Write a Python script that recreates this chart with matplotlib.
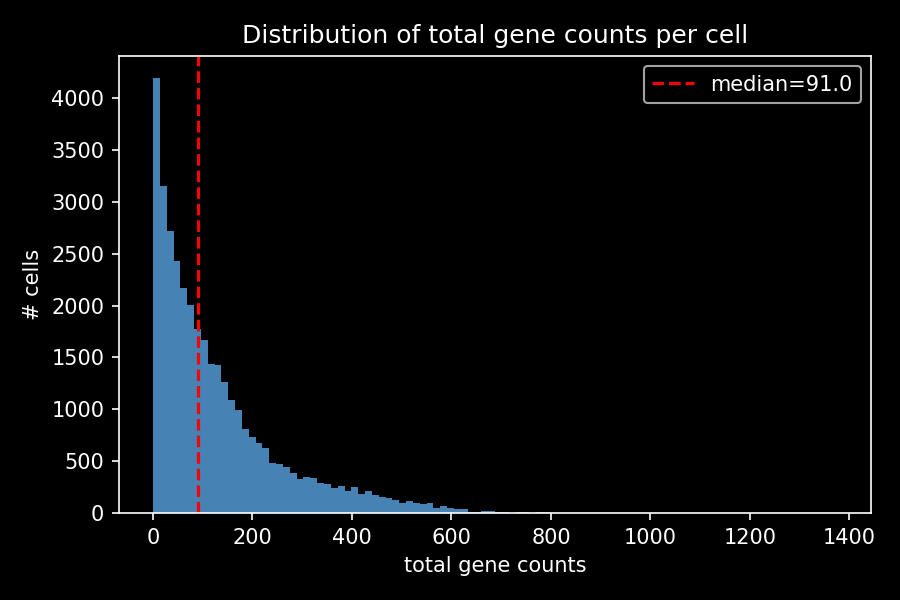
import numpy as np
import matplotlib
matplotlib.use("Agg")
import matplotlib.pyplot as plt

# histogram of total gene counts per cell (100 bins from 0 to max)
max_count = 1375.0
median_count = 91.0
cell_counts = [
    4200, 3155, 2720, 2430, 2170, 2005, 1773, 1667, 1435, 1425,
    1261, 1087, 990, 807, 729, 671, 623, 478, 469, 440,
    382, 324, 343, 333, 285, 275, 237, 256, 217, 246,
    188, 217, 178, 159, 140, 130, 101, 111, 92, 82,
    92, 53, 63, 53, 43, 43, 14, 14, 24, 24,
    12, 12, 0, 14, 14, 0, 14, 14, 0, 0,
    0, 0, 0, 0, 0, 0, 0, 0, 0, 3,
    3, 3, 0, 0, 0, 0, 3, 0, 3, 0,
    0, 3, 0, 0, 0, 0, 3, 0, 0, 0,
    0, 0, 0, 0, 0, 0, 0, 0, 0, 2,
]

edges = np.linspace(0, max_count, len(cell_counts) + 1)
centers = (edges[:-1] + edges[1:]) / 2

plt.style.use('dark_background')
fig, ax = plt.subplots(figsize=(6, 4), dpi=150)
ax.hist(centers, bins=edges, weights=cell_counts, color='steelblue')
ax.axvline(median_count, color='red', linestyle='--', label=f'median={median_count}')
ax.set_xlabel('total gene counts')
ax.set_ylabel('# cells')
ax.set_title('Distribution of total gene counts per cell')
ax.legend()
fig.subplots_adjust(left=0.132, right=0.968, top=0.907, bottom=0.145)
fig.savefig('out.png')
